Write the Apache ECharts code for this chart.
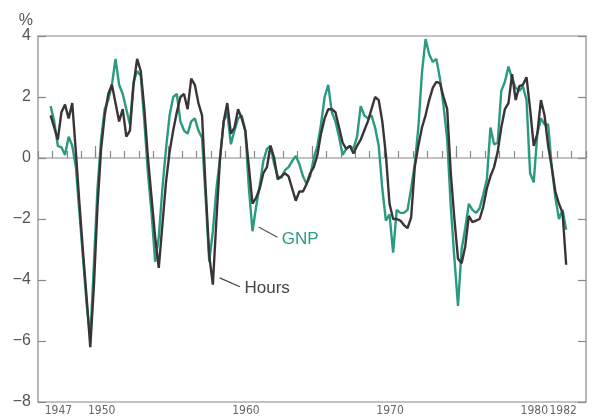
<!DOCTYPE html>
<html>
<head>
<meta charset="utf-8">
<script src="https://cdn.jsdelivr.net/npm/echarts@6/dist/echarts.min.js"></script>
<style>html,body{margin:0;padding:0;background:#fff}#c{width:593px;height:418px}</style>
</head>
<body>
<div id="c"></div>
<script>
// Quarterly data, first quarter plotted near the start of 1947
var startYear = 1946.875;
var hours = [
 1.4, 1.0, 0.6, 1.5, 1.75, 1.3, 1.8, 0.2, -1.5, -3.1, -4.6, -6.2,
 -4.2, -1.6, 0.3, 1.4, 2.1, 2.4, 1.8, 1.2, 1.6, 0.7, 0.9, 2.4,
 3.25, 2.85, 1.6, 0.0, -1.3, -2.6, -3.6, -2.2, -0.8, 0.2, 0.9, 1.5,
 2.0, 2.1, 1.6, 2.6, 2.4, 1.8, 1.4, -1.0, -3.2, -4.15, -2.0, 0.0,
 1.2, 1.8, 0.8, 1.0, 1.6, 1.3, 0.9, -0.3, -1.5, -1.3, -1.0, -0.5,
 -0.3, 0.4, 0.0, -0.7, -0.6, -0.5, -0.6, -1.0, -1.4, -1.1, -1.1, -0.85,
 -0.5, -0.3, 0.1, 0.8, 1.3, 1.6, 1.6, 1.5, 1.0, 0.5, 0.3, 0.4,
 0.15, 0.4, 0.6, 0.9, 1.2, 1.6, 2.0, 1.9, 1.2, 0.1, -1.5, -2.0,
 -2.0, -2.05, -2.2, -2.3, -1.95, -0.3, 0.4, 1.0, 1.4, 1.9, 2.3, 2.5,
 2.45, 2.0, 1.6, -0.5, -2.0, -3.3, -3.45, -2.9, -1.9, -2.1, -2.05, -2.0,
 -1.6, -1.0, -0.6, -0.3, 0.2, 1.0, 1.6, 1.8, 2.75, 1.9, 2.36, 2.4,
 2.65, 1.6, 0.4, 0.8, 1.9, 1.4, 0.4, -0.3, -1.1, -1.5, -1.8, -3.5
];
var gnp = [
 1.7, 1.2, 0.4, 0.35, 0.1, 0.7, 0.4, -0.3, -1.8, -3.3, -4.8, -5.9,
 -3.5, -1.0, 0.6, 1.6, 1.9, 2.4, 3.25, 2.4, 2.1, 1.6, 1.1, 2.5,
 2.85, 2.7, 1.2, -0.5, -1.8, -3.4, -2.6, -1.0, 0.3, 1.4, 2.0, 2.1,
 1.2, 0.9, 0.8, 1.2, 1.3, 0.9, 0.66, -1.3, -3.4, -2.4, -1.0, 0.0,
 1.2, 1.5, 0.45, 0.9, 1.3, 1.4, 0.9, -1.0, -2.4, -1.6, -0.9, -0.1,
 0.3, 0.4, -0.2, -0.6, -0.65, -0.4, -0.3, -0.1, 0.07, -0.2, -0.6, -0.85,
 -0.6, 0.0, 0.4, 1.1, 2.0, 2.4, 1.5, 1.2, 0.7, 0.1, 0.3, 0.4,
 0.3, 0.7, 1.7, 1.4, 1.3, 1.4, 1.0, 0.4, -1.0, -2.05, -1.85, -3.1,
 -1.7, -1.8, -1.8, -1.7, -1.0, -0.2, 1.0, 2.8, 3.9, 3.4, 3.15, 3.25,
 2.6, 1.7, 0.6, -1.6, -3.3, -4.85, -3.0, -2.3, -1.5, -1.7, -1.8, -1.65,
 -1.2, -0.7, 1.0, 0.45, 0.5, 2.2, 2.5, 3.0, 2.6, 2.3, 2.2, 2.35,
 1.9, -0.5, -0.8, 0.8, 1.3, 1.1, 1.1, -0.3, -1.3, -2.0, -1.7, -2.35
];
var yTicks = [-8, -6, -4, -2, 0, 2, 4];
var majorTicks = [1950, 1955, 1960, 1965, 1970, 1975, 1980];
var yearLabels = [1947, 1950, 1960, 1970, 1980, 1982];
var gnpNote = [[1961.3, -2.26], [1962.6, -2.6]];
var hoursNote = [[1958.6, -3.93], [1960.0, -4.22]];

function pairs(vals) {
  return vals.map(function (v, i) { return [startYear + i * 0.25, v]; });
}

var TEAL = '#2a9a80', DARK = '#3a3437', TXT = '#555', AX = '#888';
var chart = echarts.init(document.getElementById('c'), null, {renderer: 'canvas'});
chart.setOption({
  animation: false,
  backgroundColor: '#fff',
  grid: {left: 38, right: 7, top: 36, bottom: 16, show: true, borderColor: AX, borderWidth: 1.2},
  xAxis: [{
    type: 'value', min: 1946, max: 1984, interval: 1,
    axisLine: {show: false},
    splitLine: {show: false},
    axisTick: {show: true, inside: true, length: 7, lineStyle: {color: AX, width: 1.2}},
    axisLabel: {
      interval: 0, margin: 3, color: '#666', fontSize: 12,
      showMinLabel: true, showMaxLabel: true,
      fontFamily: '"Liberation Sans Narrow", "DejaVu Sans Condensed", sans-serif',
      padding: [0, 0, 0, 12],
      formatter: function (v) { return yearLabels.indexOf(Math.round(v)) >= 0 ? String(Math.round(v)) : ''; }
    }
  }, {
    type: 'value', min: 1946, max: 1984, position: 'bottom',
    axisLine: {show: false}, splitLine: {show: false}, axisLabel: {show: false},
    axisTick: {show: true, inside: true, length: 12, customValues: majorTicks, lineStyle: {color: AX, width: 1.2}}
  }],
  yAxis: [{
    type: 'value', min: -8, max: 4, interval: 2,
    name: '%', nameLocation: 'end', nameGap: 7,
    nameTextStyle: {color: TXT, fontSize: 16, fontFamily: '"Liberation Sans", Arial, sans-serif', align: 'right', padding: [0, 5, 0, 0]},
    axisLine: {show: false},
    axisTick: {show: true, inside: true, length: 8, lineStyle: {color: AX, width: 1.2}},
    splitLine: {show: false},
    axisLabel: {margin: 7, color: TXT, fontSize: 16, fontFamily: '"Liberation Sans", Arial, sans-serif',
      formatter: function (v) { return (v < 0 ? '\u2212' + Math.abs(v) : String(v)); }}
  }, {
    type: 'value', min: -8, max: 4, interval: 2, position: 'right',
    axisLine: {show: false}, splitLine: {show: false}, axisLabel: {show: false},
    axisTick: {show: true, inside: true, length: 8, lineStyle: {color: AX, width: 1.2}}
  }],
  series: [{
    name: 'GNP', type: 'line', data: pairs(gnp), showSymbol: false,
    lineStyle: {color: TEAL, width: 2.4}, z: 2,
    markLine: {
      silent: true, symbol: ['none', 'none'],
      lineStyle: {color: '#555', width: 1.2, type: 'solid'},
      label: {show: true, position: 'end', formatter: 'GNP', color: TEAL, fontSize: 17,
        fontFamily: '"Liberation Sans", Arial, sans-serif'},
      data: [[{coord: gnpNote[0]}, {coord: gnpNote[1]}]]
    }
  }, {
    name: 'Hours', type: 'line', data: pairs(hours), showSymbol: false,
    lineStyle: {color: DARK, width: 2.4}, z: 3,
    markLine: {
      silent: true, symbol: ['none', 'none'],
      lineStyle: {color: '#444', width: 1.2, type: 'solid'},
      label: {show: true, position: 'end', formatter: 'Hours', color: '#444', fontSize: 17,
        fontFamily: '"Liberation Sans", Arial, sans-serif'},
      data: [[{coord: hoursNote[0]}, {coord: hoursNote[1]}]]
    }
  }, {
    name: 'zero', type: 'line', data: [[1946, 0], [1984, 0]], showSymbol: false,
    lineStyle: {color: AX, width: 1}, z: 1, silent: true
  }]
});
</script>
</body>
</html>
